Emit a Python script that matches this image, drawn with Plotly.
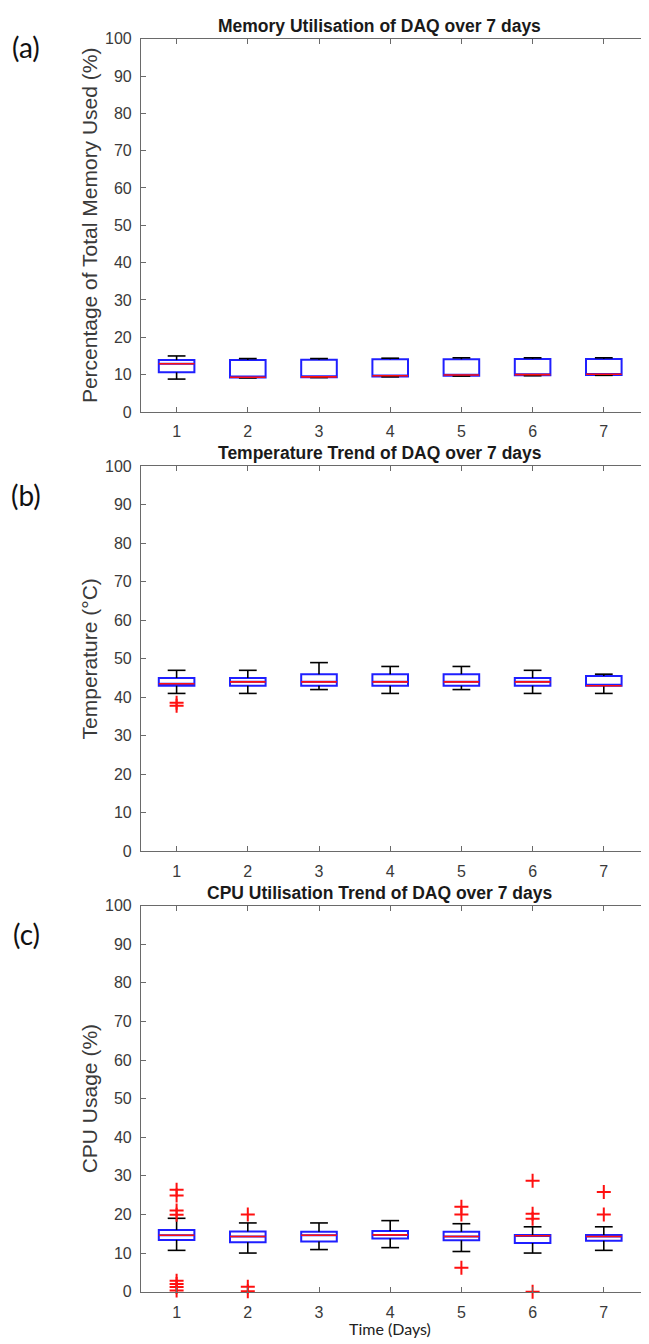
import plotly.graph_objects as go

W, H = 649, 1344

days = [1, 2, 3, 4, 5, 6, 7]
day_labels = ["1", "2", "3", "4", "5", "6", "7"]
y_ticks = [0, 10, 20, 30, 40, 50, 60, 70, 80, 90, 100]

# (a) Memory utilisation (%)
mem_low = [8.8, 9.1, 9.2, 9.4, 9.6, 9.7, 9.8]
mem_q1 = [10.6, 9.2, 9.3, 9.5, 9.7, 9.8, 9.9]
mem_med = [12.9, 9.3, 9.4, 9.7, 9.9, 10.0, 10.1]
mem_q3 = [13.9, 13.9, 14.0, 14.1, 14.1, 14.2, 14.2]
mem_high = [15.0, 14.3, 14.3, 14.4, 14.5, 14.5, 14.5]
mem_out_x = []
mem_out_y = []

# (b) Temperature (°C)
temp_low = [41, 41, 42, 41, 42, 41, 41]
temp_q1 = [43, 43, 43, 43, 43, 43, 43]
temp_med = [43.5, 44, 44, 44, 44, 44, 43]
temp_q3 = [45, 45, 46, 46, 46, 45, 45.5]
temp_high = [47, 47, 49, 48, 48, 47, 46]
temp_out_x = [1, 1]
temp_out_y = [38.6, 37.8]

# (c) CPU usage (%)
cpu_low = [10.7, 10.0, 10.9, 11.4, 10.4, 10.0, 10.7]
cpu_q1 = [13.4, 12.8, 13.0, 13.8, 13.3, 12.6, 13.2]
cpu_med = [14.6, 14.3, 14.6, 14.7, 14.3, 14.5, 14.3]
cpu_q3 = [16.0, 15.6, 15.5, 15.7, 15.5, 14.7, 14.7]
cpu_high = [19.0, 17.8, 17.8, 18.4, 17.6, 16.8, 16.8]
cpu_out_x = [1, 1, 1, 1, 1, 1, 1, 1, 2, 2, 2, 5, 5, 5, 6, 6, 6, 6, 7, 7]
cpu_out_y = [26.4, 24.9, 21.0, 19.9, 2.8, 2.0, 1.2, 0.3,
             20.0, 1.3, 0.1,
             22.0, 20.0, 6.2,
             28.7, 20.2, 18.9, 0.0,
             25.8, 20.0]

panels = [
    dict(low=mem_low, q1=mem_q1, med=mem_med, q3=mem_q3, high=mem_high,
         ox=mem_out_x, oy=mem_out_y,
         title="Memory Utilisation of DAQ over 7 days",
         ylabel="Percentage of Total Memory Used (%)", tag="(a)",
         top=23, bottom=401, tagy=31, title_gap=13, lab_off=5),
    dict(low=temp_low, q1=temp_q1, med=temp_med, q3=temp_q3, high=temp_high,
         ox=temp_out_x, oy=temp_out_y,
         title="Temperature Trend of DAQ over 7 days",
         ylabel="Temperature (°C)", tag="(b)",
         top=456, bottom=846, tagy=485, title_gap=13, lab_off=5),
    dict(low=cpu_low, q1=cpu_q1, med=cpu_med, q3=cpu_q3, high=cpu_high,
         ox=cpu_out_x, oy=cpu_out_y,
         title="CPU Utilisation Trend of DAQ over 7 days",
         ylabel="CPU Usage (%)", tag="(c)",
         top=901, bottom=1292, tagy=930, title_gap=13, lab_off=6),
]

BOX_W = 0.5
CAP_W = 0.125
AX_LEFT = 133
AX_PX_PER_DAY = 71.2
x_lo = 0.5
x_hi = 0.5 + (W - AX_LEFT) / AX_PX_PER_DAY
TITLE_X = 372
XLABEL_X = 382

tick_font = dict(family="Liberation Sans, Arial, sans-serif", size=16, color="#3a3a3a")
axis_col = "#6a6a6a"

fig = go.Figure()
annotations = []

for i, p in enumerate(panels):
    n = "" if i == 0 else str(i + 1)
    xa, ya = "x" + n, "y" + n

    # whiskers (black) with caps
    wx, wy = [], []
    for d, lo, q1, q3, hi in zip(days, p["low"], p["q1"], p["q3"], p["high"]):
        wx += [d, d, None, d, d, None, d - CAP_W, d + CAP_W, None, d - CAP_W, d + CAP_W, None]
        wy += [lo, q1, None, q3, hi, None, lo, lo, None, hi, hi, None]
    fig.add_trace(go.Scatter(x=wx, y=wy, mode="lines", xaxis=xa, yaxis=ya,
                             line=dict(color="black", width=1.6),
                             hoverinfo="skip", showlegend=False))

    # boxes (blue)
    fig.add_trace(go.Box(x=days, q1=p["q1"], median=p["med"], q3=p["q3"],
                         lowerfence=p["q1"], upperfence=p["q3"],
                         width=BOX_W, whiskerwidth=0,
                         line=dict(color="#1f1fff", width=2),
                         fillcolor="rgba(255,255,255,0)",
                         xaxis=xa, yaxis=ya, showlegend=False,
                         boxpoints=False))

    # medians (red)
    mx, my = [], []
    for d, m in zip(days, p["med"]):
        mx += [d - BOX_W / 2, d + BOX_W / 2, None]
        my += [m, m, None]
    fig.add_trace(go.Scatter(x=mx, y=my, mode="lines", xaxis=xa, yaxis=ya,
                             line=dict(color="#ff1010", width=1.6),
                             hoverinfo="skip", showlegend=False))

    # outliers
    if p["ox"]:
        fig.add_trace(go.Scatter(x=p["ox"], y=p["oy"], mode="markers",
                                 xaxis=xa, yaxis=ya, cliponaxis=False,
                                 marker=dict(symbol="cross-thin", size=10,
                                             line=dict(color="#ff1010", width=2)),
                                 hoverinfo="skip", showlegend=False))

    y0 = 1 - p["bottom"] / H
    y1 = 1 - p["top"] / H
    xkey = "xaxis" + n
    ykey = "yaxis" + n
    fig.layout[xkey] = dict(domain=[AX_LEFT / W, 1.0], range=[x_lo, x_hi],
                            anchor=ya, tickmode="array", tickvals=days,
                            ticktext=day_labels, ticks="inside", ticklen=5,
                            tickcolor=axis_col, showline=True, linecolor=axis_col,
                            linewidth=1.2, mirror="ticks", showgrid=False,
                            zeroline=False, tickfont=tick_font,
                            ticklabelstandoff=p["lab_off"])
    fig.layout[ykey] = dict(domain=[y0, y1], range=[0, 100], anchor=xa,
                            tickmode="array", tickvals=y_ticks,
                            ticks="inside", ticklen=5, tickcolor=axis_col,
                            showline=True, linecolor=axis_col, linewidth=1.2,
                            showgrid=False, zeroline=False, tickfont=tick_font,
                            ticklabelstandoff=5,
                            title=dict(text=p["ylabel"], standoff=1,
                                       font=dict(family="Liberation Sans, Arial, sans-serif",
                                                 size=21, color="#3a3a3a")))

    annotations.append(dict(text="<b>" + p["title"] + "</b>", xref="paper", yref="paper",
                            x=TITLE_X / W, y=1 - p["top"] / H,
                            xanchor="center", yanchor="middle", yshift=p["title_gap"],
                            showarrow=False,
                            font=dict(family="Liberation Sans, Arial, sans-serif",
                                      size=17.5, color="#1a1a1a")))
    annotations.append(dict(text=p["tag"], xref="paper", yref="paper",
                            x=18 / W, y=1 - p["tagy"] / H, xanchor="center",
                            yanchor="middle", showarrow=False,
                            font=dict(family="Lato, Open Sans, sans-serif",
                                      size=28, color="#111111")))

annotations.append(dict(text="Time (Days)", xref="paper", yref="paper",
                        x=XLABEL_X / W, y=1 - 1329 / H,
                        xanchor="center", yanchor="middle", showarrow=False,
                        font=dict(family="Lato, Open Sans, sans-serif",
                                  size=16, color="#222222")))

fig.update_layout(width=W, height=H, margin=dict(l=0, r=0, t=0, b=0),
                  paper_bgcolor="white", plot_bgcolor="white",
                  annotations=annotations, showlegend=False)

fig.write_html("out.html")
